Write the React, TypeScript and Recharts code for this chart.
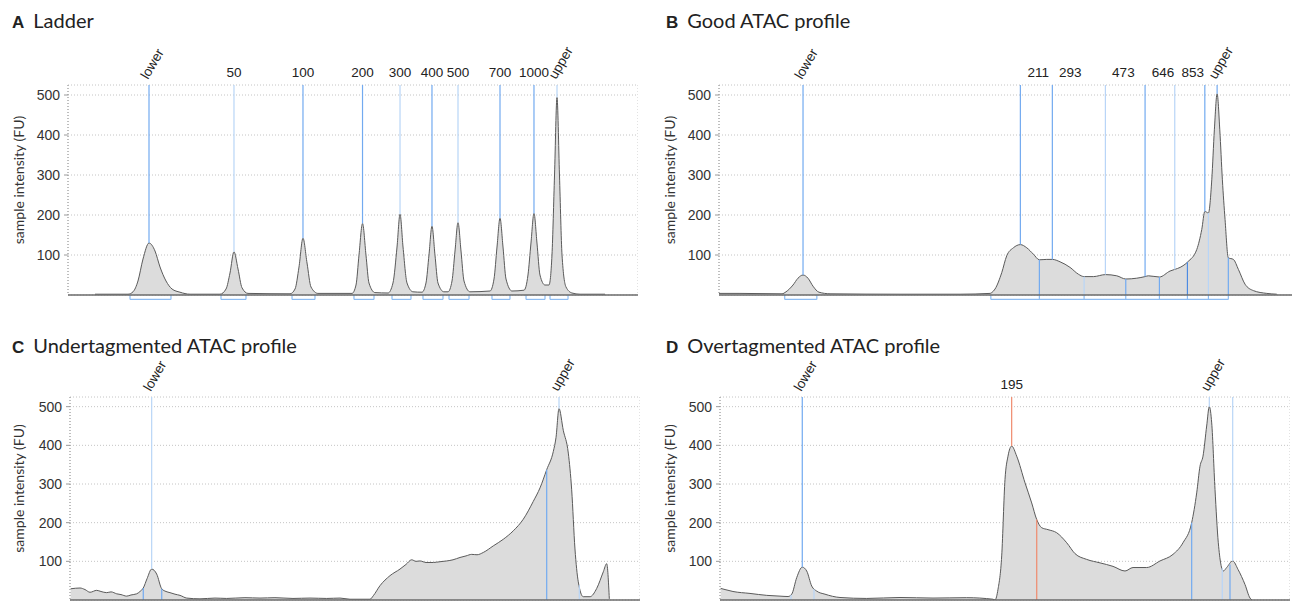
import React from 'react';
import { AreaChart, Area, XAxis, YAxis, CartesianGrid, ReferenceLine, Label } from 'recharts';

// shared axis ticks (migration time in s, intensity in FU)
const Y_TICKS = [100, 200, 300, 400, 500];
const X_GRID = [20, 30, 40, 50, 60, 70, 80, 90];
const Y_TOP = 525;

// A – ladder trace [time, FU]
const ladderTrace: [number, number][] = [
  [17.6, 2], [22, 2], [22.67, 8], [23.33, 35], [24, 90], [24.8, 130], [25.6, 110], [26.27, 70], [27.07, 35],
  [27.87, 15], [28.93, 7], [30.27, 2], [34.27, 2], [35.07, 15], [35.6, 55], [36.13, 108], [36.67, 65], [37.2, 18],
  [38, 4], [43.6, 3], [44.27, 15], [44.8, 70], [45.33, 142], [45.87, 80], [46.4, 20], [47.33, 4], [51.87, 4],
  [52.4, 25], [52.8, 100], [53.27, 179], [53.73, 100], [54.13, 30], [54.93, 6], [56.67, 5], [57.33, 30],
  [57.87, 120], [58.27, 202], [58.67, 120], [59.2, 30], [60, 8], [61.2, 7], [61.73, 30], [62.13, 100],
  [62.53, 172], [62.93, 100], [63.33, 30], [64.13, 8], [64.67, 8], [65.2, 35], [65.6, 110], [66, 181],
  [66.4, 110], [66.8, 35], [67.6, 8], [70.27, 10], [70.8, 40], [71.2, 120], [71.6, 192], [72, 120], [72.4, 40],
  [73.2, 10], [74.8, 12], [75.33, 50], [75.73, 130], [76.13, 204], [76.53, 130], [76.93, 50], [77.6, 25],
  [78.13, 25], [78.53, 100], [78.87, 300], [79.2, 494], [79.53, 300], [79.87, 100], [80.4, 20], [81.2, 5],
  [82.27, 2], [85.6, 2],
];
// ladder peaks [time, FU, size]
const ladderPeaks: [number, number, string][] = [
  [24.8, 130, 'lower'], [36.13, 108, '50'], [45.33, 142, '100'], [53.27, 179, '200'], [58.27, 202, '300'],
  [62.53, 172, '400'], [66, 181, '500'], [71.6, 192, '700'], [76.13, 204, '1000'], [79.2, 494, 'upper'],
];
const ladderBins: number[][] = [
  [22.27, 27.73], [34.4, 37.73], [43.87, 46.93], [52.13, 54.8], [57.2, 59.73],
  [61.33, 64], [64.8, 67.47], [70.53, 72.93], [75.07, 77.6], [78.27, 80.67],
];

// B – good ATAC profile
const goodTrace: [number, number][] = [
  [14, 4], [16.75, 4], [22.26, 3], [22.78, 8], [23.7, 25], [24.35, 42], [25.01, 50], [25.66, 42], [26.32, 22],
  [27.1, 7], [28.55, 3], [37.72, 2], [45.59, 2], [49.52, 4], [49.74, 6], [50.17, 15], [51.05, 56], [51.7, 98],
  [52.57, 118], [53.49, 126], [54.33, 118], [55.2, 102], [55.98, 88], [56.95, 89], [57.68, 89], [58.69, 83],
  [60, 69], [61.09, 52], [61.84, 46], [63.06, 46], [64.63, 51], [66.12, 48], [67.3, 40], [68.74, 42],
  [69.83, 46], [70.27, 48], [71.71, 45], [73.11, 60], [73.72, 64], [74.42, 69], [75.43, 83], [76.61, 114],
  [77.26, 164], [77.66, 209], [78.13, 205], [78.57, 288], [78.91, 413], [79.27, 503], [79.62, 413],
  [79.96, 288], [80.31, 189], [80.74, 93], [81.4, 89], [82.06, 64], [82.93, 27], [84.02, 11], [85.78, 4],
  [87.09, 2],
];
const goodPeaks: [number, number, string][] = [
  [25.01, 50, 'lower'], [53.49, 126, '211'], [57.68, 89, '293'], [64.63, 51, '473'], [69.83, 46, '646'],
  [73.72, 64, '853'], [77.66, 209, ''], [79.27, 503, 'upper'],
];
const goodCuts: [number, number][] = [
  [55.98, 88], [61.84, 46], [67.3, 40], [71.71, 45], [75.38, 82], [78.13, 205], [80.74, 93],
];
const goodBins: number[][] = [
  [22.61, 26.82], [49.62, 55.98, 61.84, 67.3, 71.71, 75.38, 78.13, 80.74],
];

// C – undertagmented
const underTrace: [number, number][] = [
  [14.09, 29], [15.33, 31], [16, 27], [16.67, 20], [17.56, 25], [18.13, 22], [18.89, 19], [19.47, 21],
  [20.23, 16], [20.8, 14], [21.56, 10], [22.13, 13], [22.89, 16], [23.33, 22], [23.77, 31], [24.27, 55],
  [24.89, 80], [25.56, 67], [26.23, 29], [26.8, 22], [27.33, 19], [28, 15], [28.67, 12], [29.56, 5],
  [31.33, 3], [33.33, 5], [34.89, 4], [37.33, 6], [39.33, 5], [41.33, 6], [43.73, 4], [46, 5], [48.23, 4],
  [50, 5], [51.33, 2], [54, 2], [54.44, 11], [55.33, 37], [56.67, 63], [58, 80], [58.8, 92], [59.56, 104],
  [60.13, 100], [60.67, 101], [61.47, 97], [62.44, 97], [63.33, 99], [64.23, 101], [65.07, 104], [66, 110],
  [66.8, 114], [67.56, 118], [68.27, 117], [69.11, 123], [70.44, 140], [71.77, 157], [73.11, 179],
  [74.44, 209], [75.77, 255], [76.67, 290], [77.56, 337], [78.44, 384], [78.8, 420], [79.2, 495],
  [79.77, 439], [80.44, 380], [80.89, 285], [81.33, 132], [81.77, 47], [82.44, 8.5], [83.33, 8.5],
  [84.23, 30], [85.11, 73], [85.56, 94], [85.91, 3],
];
const underPeaks: [number, number, string][] = [[24.89, 80, 'lower'], [79.2, 495, 'upper']];
const underCuts: [number, number][] = [[23.77, 31], [26.23, 29], [77.56, 337], [81.91, 38]];

// D – overtagmented
const overTrace: [number, number][] = [
  [14.09, 30], [14.67, 27], [15.73, 22], [18, 17], [20.23, 12], [22, 10], [23.07, 9], [23.56, 15],
  [24.23, 58], [24.97, 85], [25.56, 75], [26.23, 36], [26.89, 23], [28, 15], [30, 6.5], [33.56, 4],
  [38, 6.5], [42.4, 5], [46.89, 6], [50.4, 2], [50.67, 0], [51.07, 28], [51.56, 114], [52, 312], [52.4, 372],
  [52.89, 398], [53.56, 372], [54.67, 303], [55.56, 251], [56.23, 208], [56.89, 187], [57.73, 182],
  [58.89, 174], [60.23, 148], [61.33, 120], [62.89, 105], [64.67, 96], [66.4, 87], [68, 75], [69.07, 84],
  [70.89, 84], [72.67, 101], [74.4, 118], [75.73, 148], [76.89, 200], [77.56, 277], [78, 346], [78.4, 372],
  [78.89, 450], [79.24, 500], [79.56, 458], [80, 286], [80.44, 148], [81.11, 75], [81.56, 84], [82.36, 101],
  [83.07, 79], [84, 40], [84.67, 5], [84.93, 0],
];
const overPeaks: [number, number, string][] = [
  [24.97, 85, 'lower'], [52.89, 398, '195'], [79.24, 500, 'upper'], [82.36, 101, ''],
];
const overCuts: [number, number][] = [[23.47, 13], [26.53, 28], [56.23, 208], [76.89, 200], [80.97, 82], [82.0, 92]];

const TONE: Record<string, string> = {
  mid: '#72aaf0',
  light: '#b8d5f7',
  dark: '#4d8be2',
  red: '#ef8a6d',
};
const NUM_FONT = '"Liberation Sans", Arial, sans-serif';
const TITLE_FONT = 'Lato, "Noto Sans", sans-serif';

const YTitle = (props: any) => {
  const { viewBox, cx } = props;
  const x = viewBox.x + cx;
  const y = viewBox.y + viewBox.height / 2 - 10;
  return (
    <text x={x} y={y} transform={`rotate(-90 ${x} ${y})`} textAnchor="middle" dominantBaseline="central"
      fontSize={14} fill="#333" fontFamily={TITLE_FONT}>
      sample intensity (FU)
    </text>
  );
};

const PeakLabel = (props: any) => {
  const { viewBox, text, dx } = props;
  const x = viewBox.x;
  const top = viewBox.y;
  if (text === 'lower' || text === 'upper') {
    const ax = x - 1;
    const ay = top - 5;
    return (
      <text x={ax} y={ay} transform={`rotate(-60 ${ax} ${ay})`} fontSize={13.5} fill="#222" fontFamily={NUM_FONT}>
        {text}
      </text>
    );
  }
  return (
    <text x={x + dx} y={top - 8} textAnchor="middle" fontSize={13.5} fill="#222" fontFamily={NUM_FONT}>
      {text}
    </text>
  );
};

type TraceProps = {
  left: number; top: number; width: number; height: number;
  axisW: number; mt: number; mb: number; titleX: number; labelDx?: number;
  trace: [number, number][];
  peaks: [number, number, string][]; peakTones: string[];
  cuts?: [number, number][]; cutTones?: string[];
  bins?: number[][];
};

const Trace = ({ left, top, width, height, axisW, mt, mb, titleX, labelDx = 0,
  trace, peaks, peakTones, cuts = [], cutTones = [], bins = [] }: TraceProps) => {
  const rows = trace.map(([t, fu]) => ({ t, fu }));
  return (
    <div style={{ position: 'absolute', left, top }}>
      <AreaChart width={width} height={height} data={rows} margin={{ top: mt, right: 0, bottom: mb, left: 0 }}>
        <CartesianGrid stroke="#c4c4c4" strokeDasharray="1 2" />
        <XAxis type="number" dataKey="t" domain={[14, 90]} ticks={X_GRID} allowDataOverflow
          tick={false} tickLine={false} height={1} axisLine={{ stroke: '#6b6b6b', strokeWidth: 1.5 }} />
        <YAxis type="number" domain={[0, Y_TOP]} ticks={Y_TICKS} width={axisW} allowDataOverflow
          tick={{ fontSize: 14, fill: '#333', fontFamily: NUM_FONT }} tickSize={4} tickMargin={4}
          axisLine={{ stroke: '#9a9a9a', strokeDasharray: '1 2' }} tickLine={{ stroke: '#9a9a9a' }}>
          <Label content={<YTitle cx={titleX} />} />
        </YAxis>
        <Area type="monotone" dataKey="fu" baseValue={0} stroke="#5a5a5a" strokeWidth={1}
          fill="#dcdcdc" fillOpacity={1} dot={false} activeDot={false} isAnimationActive={false} />
        {peaks.map(([t, fu, name], i) => (
          <ReferenceLine key={`p${i}`} segment={[{ x: t, y: fu }, { x: t, y: Y_TOP }]} ifOverflow="visible"
            stroke={TONE[peakTones[i]]} strokeWidth={1.2}
            label={name ? <PeakLabel text={name} dx={labelDx} /> : undefined} />
        ))}
        {cuts.map(([t, fu], i) => (
          <ReferenceLine key={`c${i}`} segment={[{ x: t, y: 0 }, { x: t, y: fu }]} ifOverflow="visible"
            stroke={TONE[cutTones[i]]} strokeWidth={1.2} />
        ))}
        {bins.map((edges, i) => (
          <React.Fragment key={`b${i}`}>
            <ReferenceLine segment={[{ x: edges[0], y: -11 }, { x: edges[edges.length - 1], y: -11 }]}
              ifOverflow="visible" stroke="#8dbcf2" strokeWidth={1.2} />
            {edges.map((e, j) => (
              <ReferenceLine key={`b${i}-${j}`} segment={[{ x: e, y: -11 }, { x: e, y: 0 }]}
                ifOverflow="visible" stroke="#8dbcf2" strokeWidth={1.2} />
            ))}
          </React.Fragment>
        ))}
      </AreaChart>
    </div>
  );
};

const Title = ({ left, top, letter, text }: { left: number; top: number; letter: string; text: string }) => (
  <div style={{ position: 'absolute', left, top, fontFamily: TITLE_FONT, fontSize: 20, color: '#222',
    whiteSpace: 'nowrap', lineHeight: '22px' }}>
    <span style={{ fontWeight: 700, fontSize: 17, fontFamily: NUM_FONT, marginRight: 9 }}>{letter}</span>
    {text}
  </div>
);

export default function App() {
  return (
    <div style={{ position: 'absolute', left: 0, top: 0, width: 1292, height: 601, overflow: 'hidden', background: '#fff' }}>
      <Title left={12} top={9} letter="A" text="Ladder" />
      <Title left={666} top={9} letter="B" text="Good ATAC profile" />
      <Title left={12} top={334} letter="C" text="Undertagmented ATAC profile" />
      <Title left={666} top={334} letter="D" text="Overtagmented ATAC profile" />

      <Trace left={0} top={0} width={638} height={310} axisW={68} mt={85} mb={14} titleX={18}
        trace={ladderTrace} peaks={ladderPeaks}
        peakTones={['mid', 'light', 'mid', 'mid', 'light', 'mid', 'light', 'mid', 'mid', 'light']}
        bins={ladderBins} />
      <Trace left={646} top={0} width={653} height={310} axisW={73} mt={85} mb={14} titleX={23} labelDx={18}
        trace={goodTrace} peaks={goodPeaks}
        peakTones={['mid', 'mid', 'mid', 'light', 'mid', 'light', 'mid', 'mid']}
        cuts={goodCuts} cutTones={['mid', 'light', 'mid', 'mid', 'dark', 'light', 'mid']}
        bins={goodBins} />
      <Trace left={0} top={330} width={640} height={285} axisW={70} mt={67} mb={14} titleX={18}
        trace={underTrace} peaks={underPeaks} peakTones={['light', 'light']}
        cuts={underCuts} cutTones={['mid', 'mid', 'mid', 'light']} />
      <Trace left={646} top={330} width={644} height={285} axisW={74} mt={67} mb={14} titleX={23}
        trace={overTrace} peaks={overPeaks} peakTones={['mid', 'red', 'light', 'light']}
        cuts={overCuts} cutTones={['light', 'light', 'red', 'mid', 'light', 'mid']} />
    </div>
  );
}
